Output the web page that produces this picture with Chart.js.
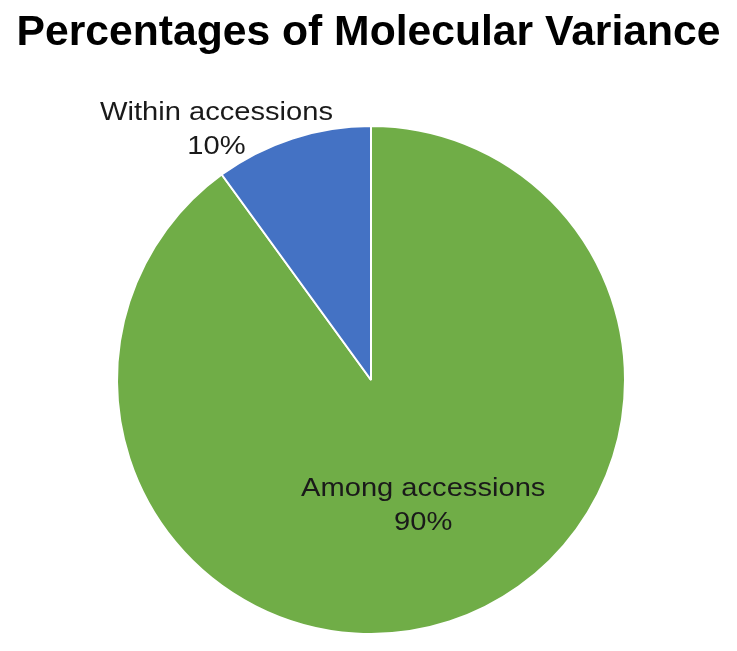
<!DOCTYPE html>
<html>
<head>
<meta charset="utf-8">
<script src="https://cdn.jsdelivr.net/npm/chart.js@4"></script>
<style>
  html, body { margin: 0; padding: 0; background: #ffffff; }
  #caja { width: 737px; height: 651px; }
</style>
</head>
<body>
<div id="caja"><canvas id="grafica-pastel"></canvas></div>
<script>
/* ===== DATOS ===== */

const TITULO     = "Percentages of Molecular Variance";
const ETIQUETAS  = ["Among accessions", "Within accessions"];
const VALORES    = [90, 10];
const PORCENTAJE = ["90%", "10%"];
const COLORES    = ["#70AD47", "#4472C4"];

/* posición de cada etiqueta: fracción del radio + desplazamiento */
const POS_ETIQUETAS = [
  { factor: 0.525, dx: 11,  dy: -1 },
  { factor: 1.0,   dx: -76, dy: -9 },
];

/* ===== PLUGIN DE TÍTULO Y ETIQUETAS ===== */

const textosPastel = {
  id: "textosPastel",
  afterDatasetsDraw(chart) {
    const ctx = chart.ctx;

    // título ajustado al ancho del original
    ctx.save();
    ctx.font = "bold 42px 'Liberation Sans', Arial, sans-serif";
    ctx.fillStyle = "#000000";
    ctx.textAlign = "center";
    ctx.textBaseline = "middle";
    const ancho = ctx.measureText(TITULO).width;
    ctx.translate(chart.width / 2, 33);
    ctx.scale(Math.min(2, 704 / ancho), 1);
    ctx.fillText(TITULO, 0, 0);
    ctx.restore();

    const meta = chart.getDatasetMeta(0);
    meta.data.forEach(function(arco, i) {
      const medio = (arco.startAngle + arco.endAngle) / 2;
      const p = POS_ETIQUETAS[i];
      const x = arco.x + Math.cos(medio) * arco.outerRadius * p.factor + p.dx;
      const y = arco.y + Math.sin(medio) * arco.outerRadius * p.factor + p.dy;
      ctx.save();
      ctx.translate(x, y);
      ctx.scale(1.12, 1);   // el texto del original está algo ensanchado
      ctx.font = "26px 'Liberation Sans', Arial, sans-serif";
      ctx.fillStyle = "#1a1a1a";
      ctx.textAlign = "center";
      ctx.textBaseline = "middle";
      ctx.fillText(ETIQUETAS[i], 0, -17);
      ctx.fillText(PORCENTAJE[i], 0, 17);
      ctx.restore();
    });
  },
};

/* ===== GRÁFICA ===== */

new Chart(document.getElementById("grafica-pastel"), {
  type: "pie",
  data: {
    labels: ETIQUETAS,
    datasets: [{
      data: VALORES,
      backgroundColor: COLORES,
      borderColor: "#ffffff",
      borderWidth: 2,
    }],
  },
  options: {
    responsive: true,
    maintainAspectRatio: false,
    animation: false,
    layout: { padding: { left: 116, right: 111, top: 125, bottom: 16 } },
    plugins: {
      legend: { display: false },
      tooltip: { enabled: false },
      title: { display: false },
    },
  },
  plugins: [textosPastel],
});
</script>
</body>
</html>
